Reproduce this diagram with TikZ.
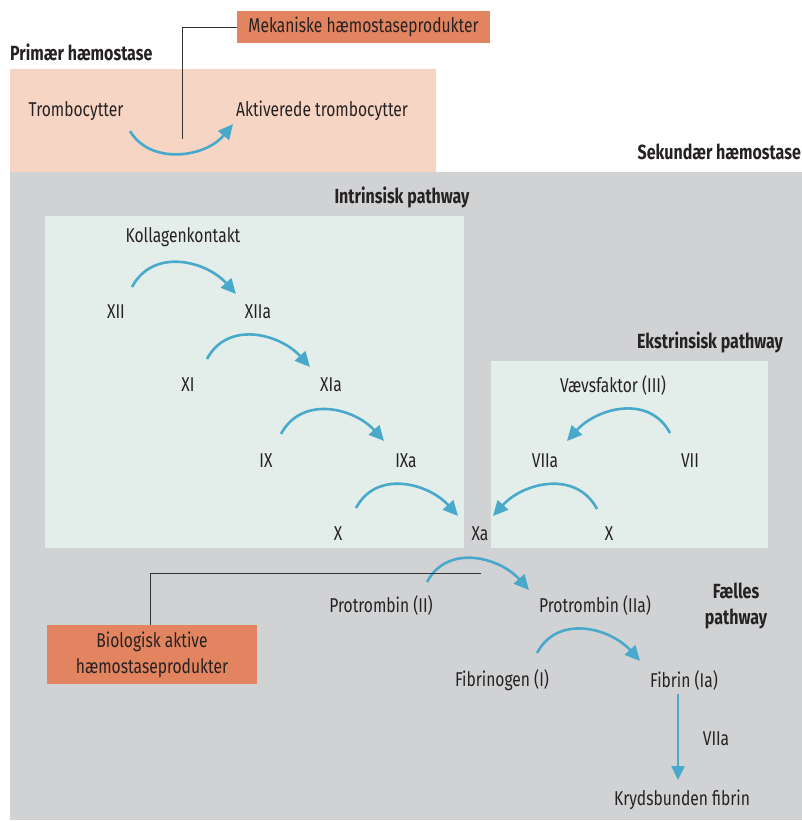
\documentclass[tikz,border=0pt]{standalone}
\usepackage{fontspec}
\setmainfont[FakeStretch=0.78]{Fira Sans}
\usetikzlibrary{arrows.meta}
\definecolor{peach}{HTML}{F6D5C4}
\definecolor{orangebox}{HTML}{E2845F}
\definecolor{graybg}{HTML}{D1D2D4}
\definecolor{palegreen}{HTML}{E3EDE9}
\definecolor{arcblue}{HTML}{48A9CB}
\definecolor{txt}{HTML}{262223}
\tikzset{
  lbl/.style={font=\fontsize{20}{24}\selectfont, text=txt, inner sep=0pt},
  hdr/.style={font=\fontsize{20.5}{25}\selectfont\bfseries, text=txt, inner sep=0pt},
  arc/.style={draw=arcblue, line width=2.6pt, -{Triangle[length=15pt,width=14pt]}},
  leader/.style={draw=black!80, line width=0.8pt},
}
\begin{document}
\begin{tikzpicture}[x=1pt,y=-1pt]
\useasboundingbox (0,0) rectangle (802,821);
% backgrounds
\fill[peach] (10,69) rectangle (436,172);
\fill[graybg] (10,172) rectangle (802,820);
\fill[palegreen] (45,216) rectangle (464,548);
\fill[palegreen] (491,361) rectangle (768,548);
% primary
\node[hdr, anchor=west] (prim) at (10,52) {Primær hæmostase};
\node[lbl, fill=orangebox, minimum width=253pt, minimum height=32pt] (mek) at (363.5,27) {Mekaniske hæmostaseprodukter};
\node[lbl] (tromb) at (76,111) {Trombocytter};
\node[lbl] (akt) at (322,111) {Aktiverede trombocytter};
\coordinate (a0s) at (130,131);
\coordinate (a0e) at (233,124);
\draw[arc] (a0s) .. controls (150,165) and (205,158) .. (a0e);
\coordinate (mekbend) at (182,27);
\coordinate (mekend) at (182,139);
\draw[leader] (mek.west) -- (mekbend) -- (mekend);
% secondary
\node[hdr, anchor=east] (sek) at (801,152) {Sekundær hæmostase};
\node[hdr] (intr) at (402,197) {Intrinsisk pathway};
\node[lbl] (koll) at (183,237) {Kollagenkontakt};
\node[lbl] (xii) at (116,312) {XII};
\node[lbl] (xiia) at (258,312) {XIIa};
\node[lbl] (xi) at (188,385) {XI};
\node[lbl] (xia) at (331,385) {XIa};
\node[lbl] (ix) at (266,461) {IX};
\node[lbl] (ixa) at (406,461) {IXa};
\node[lbl] (x1) at (338,534) {X};
\node[lbl] (xa) at (480,534) {Xa};
\coordinate (b1s) at (132,287); \coordinate (b1e) at (236,294);
\coordinate (b2s) at (207,359); \coordinate (b2e) at (310,367);
\coordinate (b3s) at (281,434); \coordinate (b3e) at (384,441);
\coordinate (b4s) at (356,508); \coordinate (b4e) at (458,516);
\foreach \s/\e in {b1s/b1e,b2s/b2e,b3s/b3e,b4s/b4e}
  \draw[arc] (\s) to[out=62,in=132,looseness=1.1] (\e);
% extrinsic
\node[hdr] (ekst) at (710,342) {Ekstrinsisk pathway};
\node[lbl] (vaev) at (613,385) {Vævsfaktor (III)};
\node[lbl] (viia) at (545,461) {VIIa};
\node[lbl] (vii) at (690,461) {VII};
\node[lbl] (x2) at (609,534) {X};
\coordinate (c1s) at (670,433); \coordinate (c1e) at (567,441);
\coordinate (c2s) at (597,509); \coordinate (c2e) at (493,516);
\foreach \s/\e in {c1s/c1e,c2s/c2e}
  \draw[arc] (\s) to[out=118,in=48,looseness=1.1] (\e);
% common
\node[lbl] (pii) at (381,605) {Protrombin (II)};
\node[lbl] (piia) at (595,605) {Protrombin (IIa)};
\node[hdr, align=center] (faelles) at (736,606) {Fælles\\[1pt]pathway};
\coordinate (d1s) at (427,582); \coordinate (d1e) at (529,590);
\draw[arc] (d1s) to[out=62,in=132,looseness=1.1] (d1e);
\node[lbl] (fibg) at (502,680) {Fibrinogen (I)};
\node[lbl] (fib) at (684,680) {Fibrin (Ia)};
\coordinate (d2s) at (537,653); \coordinate (d2e) at (640,661);
\draw[arc] (d2s) to[out=62,in=132,looseness=1.1] (d2e);
\node[lbl] (kryd) at (682,800) {Krydsbunden fibrin};
\node[lbl] (viia2) at (716,739) {VIIa};
\coordinate (vtop) at (678,694);
\coordinate (vbot) at (678,780);
\draw[draw=arcblue, line width=2.4pt, -{Triangle[length=14pt,width=13pt]}] (vtop) -- (vbot);
% biologisk
\node[lbl, fill=orangebox, minimum width=210pt, minimum height=59pt, align=center] (bio) at (152,654.5) {Biologisk aktive\\[2pt]hæmostaseprodukter};
\coordinate (biobend) at (150,573);
\coordinate (bioend) at (481,573);
\draw[leader] (bio.north -| biobend) -- (biobend) -- (bioend);
\end{tikzpicture}
\end{document}
